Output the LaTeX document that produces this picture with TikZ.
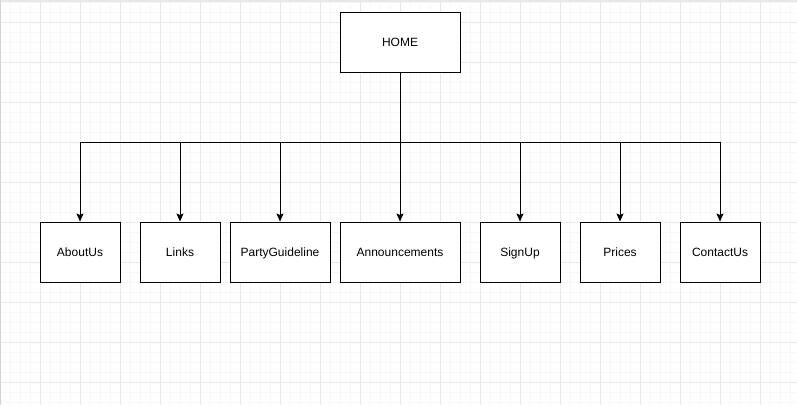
\documentclass[tikz,border=0pt]{standalone}
\usepackage{fontspec}
\setmainfont{Liberation Sans}
\usetikzlibrary{arrows.meta}
\definecolor{minorgrid}{HTML}{F7F7F7}
\definecolor{majorgrid}{HTML}{E8E8E8}
\begin{document}
\begin{tikzpicture}[x=1pt,y=-1pt,
  pagebox/.style={draw=black,line width=1pt,fill=white,inner sep=0pt,text height=10.5pt,text depth=2.5pt,font=\fontsize{12pt}{14pt}\selectfont},
  conn/.style={line width=1pt},
  arr/.style={line width=1pt,-{Stealth[length=8pt,width=7pt,inset=1.5pt]}}]
\useasboundingbox (0,0) rectangle (797,405);
\fill[white] (0,0) rectangle (797,405);
% grid
\foreach \x in {10,20,...,790} \draw[minorgrid,line width=0.8pt] (\x,0) -- (\x,405);
\foreach \y in {2,12,...,402} \draw[minorgrid,line width=0.8pt] (0,\y) -- (797,\y);
\foreach \x in {40,80,...,760} \draw[majorgrid,line width=1pt] (\x,0) -- (\x,405);
\foreach \y in {22,62,...,382} \draw[majorgrid,line width=1pt] (0,\y) -- (797,\y);
\fill[majorgrid] (0,0) rectangle (797,2);
\fill[majorgrid!80!gray] (0,0) rectangle (1,405);
% nodes
\node[pagebox,minimum width=120pt,minimum height=60pt] (home) at (400,42) {HOME};
\node[pagebox,minimum width=80pt,minimum height=60pt] (about) at (80,252) {AboutUs};
\node[pagebox,minimum width=80pt,minimum height=60pt] (links) at (180,252) {Links};
\node[pagebox,minimum width=100pt,minimum height=60pt] (party) at (280,252) {PartyGuideline};
\node[pagebox,minimum width=120pt,minimum height=60pt] (ann) at (400,252) {Announcements};
\node[pagebox,minimum width=80pt,minimum height=60pt] (sign) at (520,252) {SignUp};
\node[pagebox,minimum width=80pt,minimum height=60pt] (prices) at (620,252) {Prices};
\node[pagebox,minimum width=80pt,minimum height=60pt] (contact) at (720,252) {ContactUs};
% connectors
\coordinate (bus) at (400,142);
\draw[conn] (home.south) -- (bus);
\draw[conn] (about.north |- bus) -- (contact.north |- bus);
\foreach \n in {about,links,party,ann,sign,prices,contact}
  \draw[arr] (\n.north |- bus) -- (\n.north);
\end{tikzpicture}
\end{document}
